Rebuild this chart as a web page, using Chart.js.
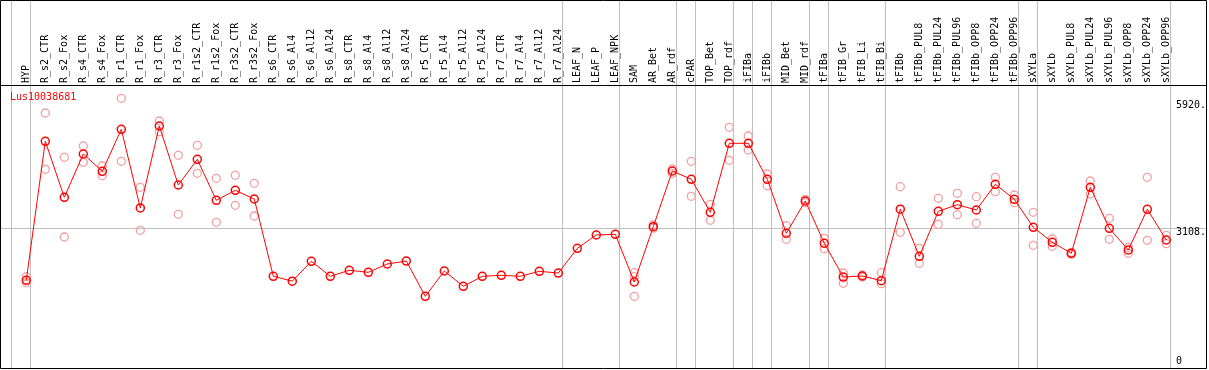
<!DOCTYPE html>
<html><head><meta charset="utf-8">
<script src="https://cdn.jsdelivr.net/npm/chart.js@4"></script>
<style>html,body{margin:0;padding:0;background:#fff;overflow:hidden}</style>
</head><body>
<canvas id="c" width="1209" height="370"></canvas>
<script>
const categories = ['HYP','R_s2_CTR','R_s2_Fox','R_s4_CTR','R_s4_Fox','R_r1_CTR','R_r1_Fox','R_r3_CTR','R_r3_Fox','R_r1s2_CTR','R_r1s2_Fox','R_r3s2_CTR','R_r3s2_Fox','R_s6_CTR','R_s6_Al4','R_s6_Al12','R_s6_Al24','R_s8_CTR','R_s8_Al4','R_s8_Al12','R_s8_Al24','R_r5_CTR','R_r5_Al4','R_r5_Al12','R_r5_Al24','R_r7_CTR','R_r7_Al4','R_r7_Al12','R_r7_Al24','LEAF_N','LEAF_P','LEAF_NPK','SAM','AR_Bet','AR_rdf','cPAR','TOP_Bet','TOP_rdf','iFIBa','iFIBb','MID_Bet','MID_rdf','tFIBa','tFIB_Gr','tFIB_Li','tFIB_Bi','tFIBb','tFIBb_PUL8','tFIBb_PUL24','tFIBb_PUL96','tFIBb_OPP8','tFIBb_OPP24','tFIBb_OPP96','sXYLa','sXYLb','sXYLb_PUL8','sXYLb_PUL24','sXYLb_PUL96','sXYLb_OPP8','sXYLb_OPP24','sXYLb_OPP96'];
const seriesName = 'Lus10038681';
const meanValues = [1951,5043,3798,4761,4376,5310,3560,5384,4071,4643,3731,3953,3760,2040,1932,2374,2040,2174,2129,2314,2380,1595,2158,1818,2040,2062,2040,2151,2113,2663,2959,2974,1913,3144,4383,4198,3464,4999,4999,4198,2997,3715,2774,2024,2047,1942,3533,2485,3486,3633,3515,4087,3753,3130,2796,2552,4020,3108,2625,3531,2848];
const rep1 = [2031,5673,4687,4939,4494,6000,4020,5495,4732,4954,4220,4287,4109,null,null,null,null,null,null,null,null,null,null,null,null,null,null,null,null,null,null,null,2120,3181,4430,4598,3642,5355,5161,4316,3166,3753,2885,2113,2069,2120,4033,2663,3775,3886,3811,4243,3849,3464,2870,2574,4160,3330,2685,4243,2952];
const rep2 = [1898,4421,2914,4576,4278,4598,3063,5257,3419,4332,3241,3620,3382,null,null,null,null,null,null,null,null,null,null,null,null,null,null,null,null,null,null,null,1595,3110,4332,3820,3286,4621,4850,4056,2863,3677,2654,1884,2025,1875,3019,2329,3197,3410,3219,3922,3677,2730,2707,2530,3871,2863,2552,2841,2765];
const rep3 = [null,null,null,null,null,null,null,null,null,null,null,null,null,null,null,null,null,null,null,null,null,null,null,null,null,null,null,null,null,null,null,null,2031,null,null,null,null,null,null,null,null,null,null,null,null,null,null,null,null,null,null,null,null,null,null,null,null,null,null,null,null];
const groupStarts = [0,1,29,32,35,36,38,39,40,42,43,46,53,54,61];
const yTickValues = [0,3108,5920];
const yMaxValue = 6296;

const PX0 = 26.3, STEP = 19, LEFT = 1, RIGHT = 1206;
const xMin = -(PX0 - LEFT) / STEP;
const xMax = xMin + (RIGHT - LEFT) / STEP;
const SEP_OFFSET = -0.775;
const HEADER = 85;
const FONT = {family: "'DejaVu Sans Mono', monospace", size: 10};

const toPts = arr => arr.map((v, i) => v == null ? null : {x: i, y: v}).filter(p => p);
const noPad = s => { s.paddingLeft = 0; s.paddingRight = 0; s.paddingTop = 0; s.paddingBottom = 0; };

const framePlugin = {
  id: 'frame',
  afterDraw(chart) {
    const {ctx, chartArea: a} = chart;
    ctx.save();
    ctx.strokeStyle = '#000';
    ctx.lineWidth = 1;
    ctx.beginPath();
    ctx.rect(0.5, 0.5, a.right, a.bottom);
    ctx.moveTo(0, a.top + 0.5);
    ctx.lineTo(a.right + 1, a.top + 0.5);
    ctx.stroke();
    ctx.fillStyle = '#ff0000';
    ctx.font = "10px 'DejaVu Sans Mono', monospace";
    ctx.textBaseline = 'middle';
    ctx.textAlign = 'left';
    ctx.fillText(chart.data.datasets[0].label, a.left + 9, a.top + 12);
    ctx.restore();
  }
};

const repStyle = {
  type: 'scatter', showLine: false, order: 1,
  pointRadius: 4, pointHoverRadius: 4, pointBorderWidth: 1.3,
  pointBorderColor: '#f0a0a0', pointBackgroundColor: 'rgba(0,0,0,0)'
};

new Chart(document.getElementById('c'), {
  type: 'line',
  data: {
    datasets: [
      {label: seriesName, data: toPts(meanValues), order: 0,
       borderColor: '#ff0000', borderWidth: 1, tension: 0,
       pointRadius: 4, pointHoverRadius: 4, pointBorderWidth: 1.5,
       pointBorderColor: '#ff0000', pointBackgroundColor: 'rgba(0,0,0,0)'},
      Object.assign({label: seriesName + ' rep1', data: toPts(rep1)}, repStyle),
      Object.assign({label: seriesName + ' rep2', data: toPts(rep2)}, repStyle),
      Object.assign({label: seriesName + ' rep3', data: toPts(rep3)}, repStyle)
    ]
  },
  options: {
    responsive: false, animation: false, devicePixelRatio: 1,
    layout: {autoPadding: false, padding: {left: LEFT, right: 1209 - RIGHT, top: 0, bottom: 2}},
    plugins: {legend: {display: false}, tooltip: {enabled: false}, title: {display: false}},
    scales: {
      x: {
        type: 'linear', position: 'top', min: xMin, max: xMax, weight: 1,
        grid: {display: false, drawTicks: false},
        border: {display: false},
        afterBuildTicks: s => { s.ticks = categories.map((_, i) => ({value: i})); },
        afterFit: s => { s.height = HEADER; noPad(s); },
        ticks: {
          autoSkip: false, minRotation: 90, maxRotation: 90, padding: 2, labelOffset: 12,
          color: '#000', font: FONT,
          callback: v => categories[v] ?? ''
        }
      },
      xg: {
        type: 'linear', position: 'top', min: xMin, max: xMax, weight: 0,
        grid: {display: true, color: '#c0c0c0', lineWidth: 1, drawTicks: true, tickLength: HEADER, offset: false},
        border: {display: false},
        afterBuildTicks: s => { s.ticks = groupStarts.map(k => ({value: k + SEP_OFFSET})); },
        afterFit: s => { s.height = 0; noPad(s); },
        ticks: {display: false}
      },
      y: {
        type: 'linear', position: 'right', min: 0, max: yMaxValue,
        grid: {color: c => (c.tick && c.tick.value === 3108) ? '#c0c0c0' : 'rgba(0,0,0,0)', drawTicks: false},
        border: {display: false},
        afterBuildTicks: s => { s.ticks = yTickValues.map(v => ({value: v})); },
        afterFit: s => { s.width = 0; noPad(s); },
        ticks: {
          mirror: true, crossAlign: 'far', padding: 0, labelOffset: 4,
          color: '#000', font: {family: "'DejaVu Sans Mono', monospace", size: 10, lineHeight: 1.1},
          callback: v => v === 0 ? ['0', '', ''] : v + '.'
        }
      }
    }
  },
  plugins: [framePlugin]
});
</script>
</body></html>
